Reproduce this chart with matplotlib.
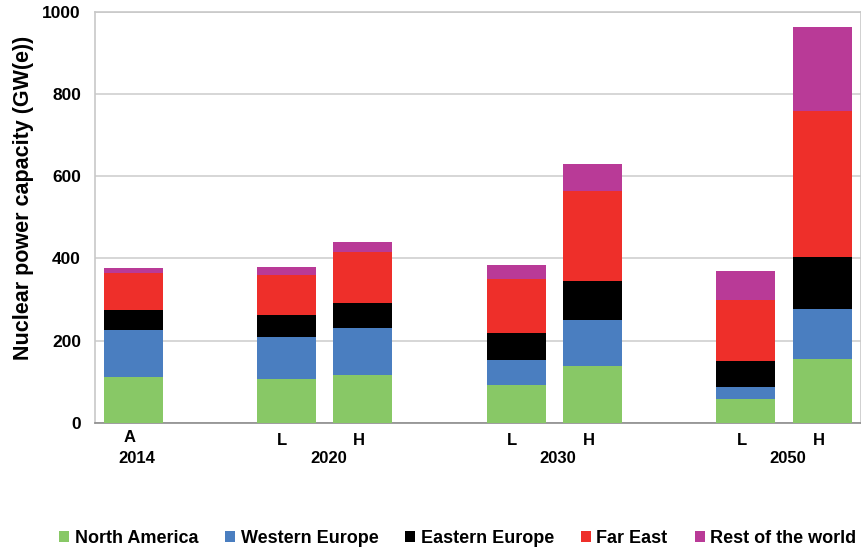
import matplotlib.pyplot as plt

plt.rcParams['font.family'] = ['Liberation Sans', 'DejaVu Sans']
plt.rcParams['font.weight'] = 'bold'

# Scenario columns: actual 2014, then low/high projections
scenarios = ['A', 'L', 'H', 'L', 'H', 'L', 'H']
slots = [0, 2, 3, 5, 6, 8, 9]
years = ['2014', '2020', '2030', '2050']
yearSlots = [0, 2.5, 5.5, 8.5]

# GW(e) per region
northAmerica = [111, 107, 117, 92, 139, 58, 156]
westernEurope = [114, 101, 113, 61, 112, 28, 121]
easternEurope = [49, 54, 62, 65, 94, 64, 126]
farEast = [90, 99, 124, 133, 219, 149, 356]
restOfWorld = [12, 18, 25, 33, 67, 71, 205]

regions = ['North America', 'Western Europe', 'Eastern Europe', 'Far East', 'Rest of the world']
series = [northAmerica, westernEurope, easternEurope, farEast, restOfWorld]
colors = ['#88C866', '#4A7EC0', '#000000', '#EE2F2A', '#B93A97']

fig = plt.figure(figsize=(8.62, 5.53), dpi=100)
ax = fig.add_axes([0.110, 0.2356, 0.8885, 0.7424])

bottom = [0] * len(slots)
for name, vals, col in zip(regions, series, colors):
    ax.bar(slots, vals, width=0.77, bottom=bottom, color=col, label=name, zorder=3)
    bottom = [b + v for b, v in zip(bottom, vals)]

ax.set_xlim(-0.5, 9.5)
ax.set_ylim(0, 1000)
ax.set_yticks(range(0, 1001, 200))
ax.yaxis.grid(True, color='#D0D0D0', linewidth=1.2, zorder=0)
ax.tick_params(axis='y', length=0, labelsize=12.5, pad=10)
ax.set_xticks([])
for side in ['top', 'right', 'left']:
    ax.spines[side].set_color('#C8C8C8')
    ax.spines[side].set_linewidth(1.2)
ax.spines['bottom'].set_color('#8C8C8C')
ax.spines['bottom'].set_linewidth(1.2)

ax.set_ylabel('Nuclear power capacity (GW(e))', fontsize=15.5, fontweight='bold')
ax.yaxis.set_label_coords(-0.080, 0.547)

for s, lab in zip(slots, scenarios):
    off = -10.5 if lab == 'A' else -12.5
    ax.annotate(lab, xy=(s - 0.05, 0), xycoords=('data', 'axes fraction'), xytext=(0, off),
                textcoords='offset points', ha='center', va='center', fontsize=12, fontweight='bold')
for s, yr in zip(yearSlots, years):
    ax.annotate(yr, xy=(s + 0.05, 0), xycoords=('data', 'axes fraction'), xytext=(0, -26),
                textcoords='offset points', ha='center', va='center', fontsize=12, fontweight='bold')

fig.legend(loc='center', bbox_to_anchor=(0.531, 0.027), ncol=5, frameon=False,
           handlelength=0.55, handleheight=0.55, handletextpad=0.3, columnspacing=1.5,
           prop={'weight': 'bold', 'size': 13})

fig.savefig('out.png', dpi=100)
